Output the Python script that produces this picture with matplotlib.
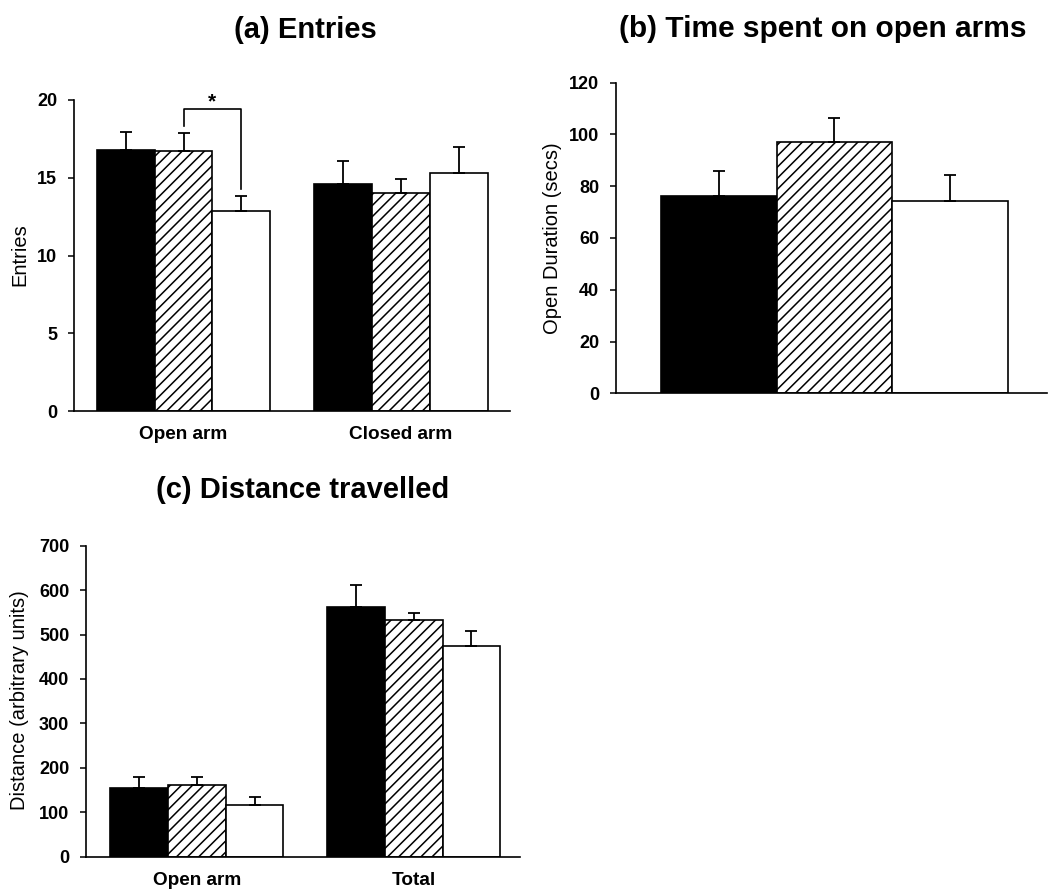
import matplotlib
matplotlib.use('Agg')
import matplotlib.pyplot as plt
import numpy as np

plt.rcParams['font.family'] = ['Liberation Sans', 'DejaVu Sans']
plt.rcParams['hatch.linewidth'] = 1.1

# (a) Entries
entry_groups = ["Open arm", "Closed arm"]
entries_black = [16.8, 14.6]
entries_black_err = [1.15, 1.45]
entries_hatch = [16.75, 14.0]
entries_hatch_err = [1.1, 0.9]
entries_white = [12.85, 15.3]
entries_white_err = [0.95, 1.7]

# (b) Time spent on open arms
duration = [76.3, 96.9, 74.3]
duration_err = [9.7, 9.3, 9.9]

# (c) Distance travelled
dist_groups = ["Open arm", "Total"]
dist_black = [154, 561]
dist_black_err = [26, 50]
dist_hatch = [161, 533]
dist_hatch_err = [19, 15]
dist_white = [116, 474]
dist_white_err = [19, 35]

W, H = 1048, 889
fig = plt.figure(figsize=(W / 100, H / 100), dpi=100)


def make_ax(l, r, t, b):
    return fig.add_axes([l / W, 1 - b / H, (r - l) / W, (b - t) / H])


def style(ax, ticks):
    for s in ['top', 'right']:
        ax.spines[s].set_visible(False)
    for s in ['left', 'bottom']:
        ax.spines[s].set_linewidth(1.2)
    ax.set_yticks(ticks)
    ax.tick_params(axis='y', direction='out', length=4, width=1.1, pad=8, labelsize=13)
    ax.tick_params(axis='x', length=0, pad=11, labelsize=13.7)
    for lbl in ax.get_yticklabels() + ax.get_xticklabels():
        lbl.set_fontweight('bold')


def grouped(ax, centers, black, black_err, hatch, hatch_err, white, white_err):
    centers = np.asarray(centers, dtype=float)
    series = [(black, black_err, 'black', ''), (hatch, hatch_err, 'white', '///'),
              (white, white_err, 'white', '')]
    for i, (vals, errs, fc, hp) in enumerate(series):
        x = centers + (i - 1)
        ax.bar(x, vals, width=1.0, color=fc, edgecolor='black', hatch=hp, linewidth=1.2, zorder=2)
        ax.errorbar(x, vals, yerr=[np.zeros(len(vals)), errs], fmt='none', ecolor='black',
                    elinewidth=1.3, capsize=4.5, capthick=1.3, zorder=3)


# (a)
ax1 = make_ax(74, 510, 100, 411)
centers_a = [0, 3.77]
grouped(ax1, centers_a, entries_black, entries_black_err, entries_hatch, entries_hatch_err,
        entries_white, entries_white_err)
ax1.set_xlim(-1.9, 5.66)
ax1.set_ylim(0, 20)
ax1.set_xticks(centers_a, entry_groups)
style(ax1, [0, 5, 10, 15, 20])
# significance bracket between hatched and white open-arm bars
xh, xw = centers_a[0], centers_a[0] + 1
ax1.plot([xh, xh, xw, xw], [18.3, 19.45, 19.45, 14.3], color='black', lw=1.2, clip_on=False, zorder=4)
ax1.text((xh + xw) / 2, 19.9, '*', ha='center', va='center', fontsize=15, fontweight='bold')
ax1.set_title('(a) Entries', fontsize=21, fontweight='bold', pad=0, x=0.53, y=1.2)
fig.text(20 / W, 1 - 255 / H, 'Entries', rotation=90, ha='center', va='center', fontsize=14.5)

# (b)
ax2 = make_ax(616, 1047, 82.7, 393.3)
xb = np.arange(3)
ax2.bar(xb, duration, width=1.0, color=['black', 'white', 'white'], edgecolor='black',
        hatch=['', '///', ''], linewidth=1.2, zorder=2)
ax2.errorbar(xb, duration, yerr=[np.zeros(3), duration_err], fmt='none', ecolor='black',
             elinewidth=1.3, capsize=4.5, capthick=1.3, zorder=3)
ax2.set_xlim(-0.89, 2.84)
ax2.set_ylim(0, 120)
ax2.set_xticks([])
style(ax2, np.arange(0, 121, 20))
ax2.set_title('(b) Time spent on open arms', fontsize=21.5, fontweight='bold', pad=0, x=0.48, y=1.147)
fig.text(552 / W, 1 - 238 / H, 'Open Duration (secs)', rotation=90, ha='center', va='center', fontsize=14.5)

# (c)
ax3 = make_ax(86, 520, 545.7, 856.7)
centers_c = [0, 3.75]
grouped(ax3, centers_c, dist_black, dist_black_err, dist_hatch, dist_hatch_err,
        dist_white, dist_white_err)
ax3.set_xlim(-1.915, 5.59)
ax3.set_ylim(0, 700)
ax3.set_xticks(centers_c, dist_groups)
style(ax3, np.arange(0, 701, 100))
ax3.set_title('(c) Distance travelled', fontsize=21, fontweight='bold', pad=0, x=0.5, y=1.152)
fig.text(20 / W, 1 - 700 / H, 'Distance (arbitrary units)', rotation=90, ha='center', va='center', fontsize=14.5)

fig.savefig('out.png', dpi=100)
